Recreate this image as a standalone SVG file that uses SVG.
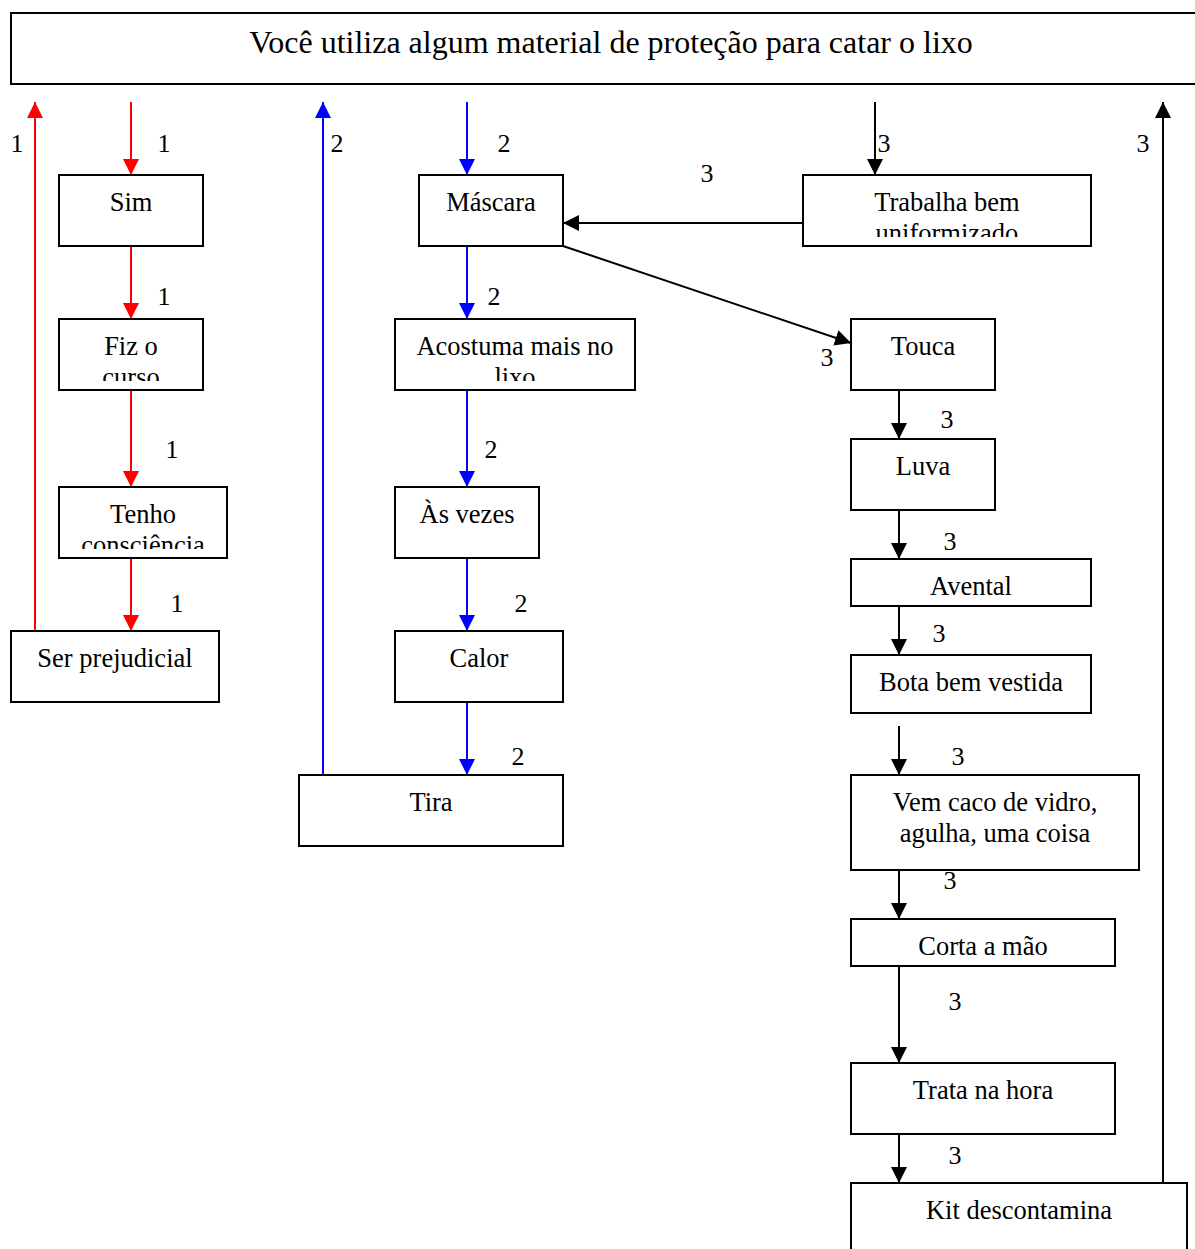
<svg xmlns="http://www.w3.org/2000/svg" width="1195" height="1249" viewBox="0 0 1195 1249">
  <style>
    .box { fill: #fff; stroke: #000; stroke-width: 2; }
    .t { font-family: "Liberation Serif", "Times New Roman", serif; font-size: 26.5px; fill: #000; text-anchor: middle; }
    .title { font-size: 32px; }
    .n { font-family: "Liberation Serif", "Times New Roman", serif; font-size: 26px; fill: #000; text-anchor: middle; }
    .red { stroke: #ff0000; stroke-width: 2; fill: none; }
    .blue { stroke: #0000ff; stroke-width: 2; fill: none; }
    .blk { stroke: #000; stroke-width: 2; fill: none; }
  </style>
  <defs>
    <marker id="ahRed" viewBox="0 0 16 16" refX="16" refY="8" markerWidth="16" markerHeight="16" markerUnits="userSpaceOnUse" orient="auto">
      <path d="M0,0 L16,8 L0,16 Z" fill="#ff0000"/>
    </marker>
    <marker id="ahBlue" viewBox="0 0 16 16" refX="16" refY="8" markerWidth="16" markerHeight="16" markerUnits="userSpaceOnUse" orient="auto">
      <path d="M0,0 L16,8 L0,16 Z" fill="#0000ff"/>
    </marker>
    <marker id="ahBlk" viewBox="0 0 16 16" refX="16" refY="8" markerWidth="16" markerHeight="16" markerUnits="userSpaceOnUse" orient="auto">
      <path d="M0,0 L16,8 L0,16 Z" fill="#000"/>
    </marker>
    <clipPath id="cFiz"><rect x="59" y="319" width="144" height="62"/></clipPath>
    <clipPath id="cTenho"><rect x="59" y="487" width="168" height="62"/></clipPath>
    <clipPath id="cAcost"><rect x="395" y="319" width="240" height="62"/></clipPath>
    <clipPath id="cTrab"><rect x="803" y="175" width="288" height="62"/></clipPath>
  </defs>

  <!-- question header -->
  <g id="header">
    <rect class="box" x="11" y="13" width="1200" height="71"/>
    <text class="t title" x="611" y="53">Você utiliza algum material de proteção para catar o lixo</text>
  </g>

  <!-- connectors -->
  <g id="connectors">
    <!-- path 1 (red) -->
    <line class="red" x1="35" y1="631" x2="35" y2="102" marker-end="url(#ahRed)"/>
    <line class="red" x1="131" y1="102" x2="131" y2="175" marker-end="url(#ahRed)"/>
    <line class="red" x1="131" y1="246" x2="131" y2="319" marker-end="url(#ahRed)"/>
    <line class="red" x1="131" y1="390" x2="131" y2="487" marker-end="url(#ahRed)"/>
    <line class="red" x1="131" y1="558" x2="131" y2="631" marker-end="url(#ahRed)"/>
    <!-- path 2 (blue) -->
    <line class="blue" x1="323" y1="775" x2="323" y2="102" marker-end="url(#ahBlue)"/>
    <line class="blue" x1="467" y1="102" x2="467" y2="175" marker-end="url(#ahBlue)"/>
    <line class="blue" x1="467" y1="246" x2="467" y2="319" marker-end="url(#ahBlue)"/>
    <line class="blue" x1="467" y1="390" x2="467" y2="487" marker-end="url(#ahBlue)"/>
    <line class="blue" x1="467" y1="558" x2="467" y2="631" marker-end="url(#ahBlue)"/>
    <line class="blue" x1="467" y1="702" x2="467" y2="775" marker-end="url(#ahBlue)"/>
    <!-- path 3 (black) -->
    <line class="blk" x1="875" y1="102" x2="875" y2="175" marker-end="url(#ahBlk)"/>
    <line class="blk" x1="803" y1="223" x2="563" y2="223" marker-end="url(#ahBlk)"/>
    <line class="blk" x1="563" y1="246" x2="851" y2="343" marker-end="url(#ahBlk)"/>
    <line class="blk" x1="899" y1="390" x2="899" y2="439" marker-end="url(#ahBlk)"/>
    <line class="blk" x1="899" y1="510" x2="899" y2="559" marker-end="url(#ahBlk)"/>
    <line class="blk" x1="899" y1="606" x2="899" y2="655" marker-end="url(#ahBlk)"/>
    <line class="blk" x1="899" y1="726" x2="899" y2="775" marker-end="url(#ahBlk)"/>
    <line class="blk" x1="899" y1="870" x2="899" y2="919" marker-end="url(#ahBlk)"/>
    <line class="blk" x1="899" y1="966" x2="899" y2="1063" marker-end="url(#ahBlk)"/>
    <line class="blk" x1="899" y1="1134" x2="899" y2="1183" marker-end="url(#ahBlk)"/>
    <line class="blk" x1="1163" y1="1183" x2="1163" y2="102" marker-end="url(#ahBlk)"/>

    <!-- path numbers -->
    <text class="n" x="17" y="152">1</text>
    <text class="n" x="164" y="152">1</text>
    <text class="n" x="164" y="305">1</text>
    <text class="n" x="172" y="458">1</text>
    <text class="n" x="177" y="612">1</text>
    <text class="n" x="337" y="152">2</text>
    <text class="n" x="504" y="152">2</text>
    <text class="n" x="494" y="305">2</text>
    <text class="n" x="491" y="458">2</text>
    <text class="n" x="521" y="612">2</text>
    <text class="n" x="518" y="765">2</text>
    <text class="n" x="884" y="152">3</text>
    <text class="n" x="707" y="182">3</text>
    <text class="n" x="1143" y="152">3</text>
    <text class="n" x="827" y="366">3</text>
    <text class="n" x="947" y="428">3</text>
    <text class="n" x="950" y="550">3</text>
    <text class="n" x="939" y="642">3</text>
    <text class="n" x="958" y="765">3</text>
    <text class="n" x="950" y="889">3</text>
    <text class="n" x="955" y="1010">3</text>
    <text class="n" x="955" y="1164">3</text>
  </g>

  <!-- path 1 nodes -->
  <g id="sim">
    <rect class="box" x="59" y="175" width="144" height="71"/>
    <text class="t" x="131" y="211">Sim</text>
  </g>
  <g id="fiz-o-curso">
    <rect class="box" x="59" y="319" width="144" height="71"/>
    <g clip-path="url(#cFiz)">
      <text class="t" x="131" y="355">Fiz o</text>
      <text class="t" x="131" y="386">curso</text>
    </g>
  </g>
  <g id="tenho-consciencia">
    <rect class="box" x="59" y="487" width="168" height="71"/>
    <g clip-path="url(#cTenho)">
      <text class="t" x="143" y="523">Tenho</text>
      <text class="t" x="143" y="554">consciência</text>
    </g>
  </g>
  <g id="ser-prejudicial">
    <rect class="box" x="11" y="631" width="208" height="71"/>
    <text class="t" x="115" y="667">Ser prejudicial</text>
  </g>

  <!-- path 2 nodes -->
  <g id="mascara">
    <rect class="box" x="419" y="175" width="144" height="71"/>
    <text class="t" x="491" y="211">Máscara</text>
  </g>
  <g id="acostuma">
    <rect class="box" x="395" y="319" width="240" height="71"/>
    <g clip-path="url(#cAcost)">
      <text class="t" x="515" y="355">Acostuma mais no</text>
      <text class="t" x="515" y="386">lixo</text>
    </g>
  </g>
  <g id="as-vezes">
    <rect class="box" x="395" y="487" width="144" height="71"/>
    <text class="t" x="467" y="523">Às vezes</text>
  </g>
  <g id="calor">
    <rect class="box" x="395" y="631" width="168" height="71"/>
    <text class="t" x="479" y="667">Calor</text>
  </g>
  <g id="tira">
    <rect class="box" x="299" y="775" width="264" height="71"/>
    <text class="t" x="431" y="811">Tira</text>
  </g>

  <!-- path 3 nodes -->
  <g id="trabalha">
    <rect class="box" x="803" y="175" width="288" height="71"/>
    <g clip-path="url(#cTrab)">
      <text class="t" x="947" y="211">Trabalha bem</text>
      <text class="t" x="947" y="242">uniformizado</text>
    </g>
  </g>
  <g id="touca">
    <rect class="box" x="851" y="319" width="144" height="71"/>
    <text class="t" x="923" y="355">Touca</text>
  </g>
  <g id="luva">
    <rect class="box" x="851" y="439" width="144" height="71"/>
    <text class="t" x="923" y="475">Luva</text>
  </g>
  <g id="avental">
    <rect class="box" x="851" y="559" width="240" height="47"/>
    <text class="t" x="971" y="595">Avental</text>
  </g>
  <g id="bota">
    <rect class="box" x="851" y="655" width="240" height="58"/>
    <text class="t" x="971" y="691">Bota bem vestida</text>
  </g>
  <g id="vem-caco">
    <rect class="box" x="851" y="775" width="288" height="95"/>
    <text class="t" x="995" y="811">Vem caco de vidro,</text>
    <text class="t" x="995" y="842">agulha, uma coisa</text>
  </g>
  <g id="corta">
    <rect class="box" x="851" y="919" width="264" height="47"/>
    <text class="t" x="983" y="955">Corta a mão</text>
  </g>
  <g id="trata">
    <rect class="box" x="851" y="1063" width="264" height="71"/>
    <text class="t" x="983" y="1099">Trata na hora</text>
  </g>
  <g id="kit">
    <rect class="box" x="851" y="1183" width="336" height="80"/>
    <text class="t" x="1019" y="1219">Kit descontamina</text>
  </g>
</svg>
